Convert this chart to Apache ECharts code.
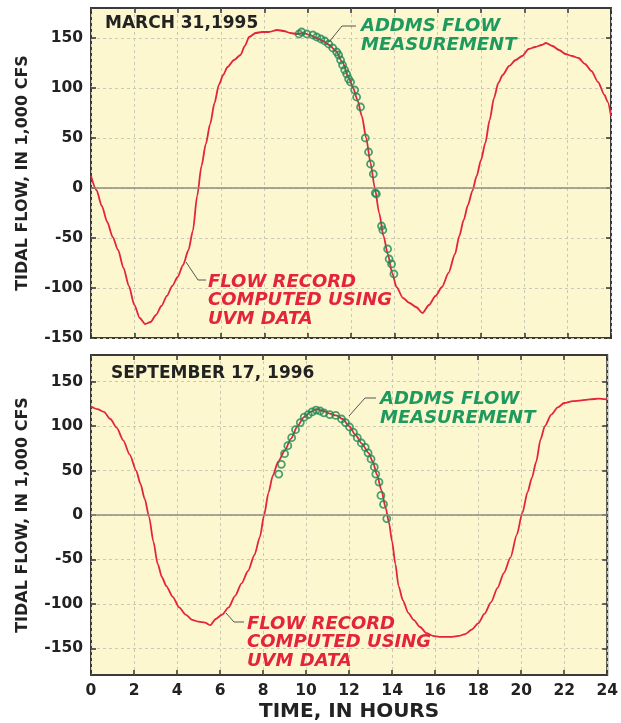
<!DOCTYPE html>
<html><head><meta charset="utf-8">
<script src="https://cdn.jsdelivr.net/npm/echarts@6/dist/echarts.min.js"></script>
<style>html,body{margin:0;padding:0;background:#fff}#c{width:621px;height:723px}</style>
</head><body><div id="c"></div>
<script>
// ---- data ----
const xTicks = [0, 2, 4, 6, 8, 10, 12, 14, 16, 18, 20, 22, 24];
const yTicks = [-150, -100, -50, 0, 50, 100, 150];

const marchHours = [0,0.25,0.5,0.75,1.0,1.25,1.5,1.75,2.0,2.25,2.5,2.75,3.0,3.25,3.5,3.75,4.0,4.25,4.5,4.7,4.9,5.1,5.3,5.5,5.7,5.9,6.1,6.3,6.6,6.9,7.1,7.3,7.6,7.9,8.2,8.6,8.9,9.2,9.5,9.8,10.1,10.4,10.7,11.0,11.3,11.6,11.9,12.1,12.3,12.5,12.7,12.9,13.1,13.3,13.5,13.7,13.9,14.1,14.4,14.7,15.0,15.3,15.6,15.9,16.2,16.5,16.8,17.0,17.2,17.4,17.6,17.8,18.0,18.2,18.4,18.6,18.8,19.0,19.3,19.6,19.9,20.2,20.5,20.8,21.0,21.3,21.6,21.9,22.2,22.5,22.8,23.1,23.4,23.7,23.85,24.0];
const marchFlow  = [12,-2,-18,-34,-49,-62,-80,-98,-117,-130,-136,-134,-127,-118,-108,-98,-89,-77,-62,-43,-8,22,44,64,85,103,113,121,128,133,142,151,155,156,156,158,157,155,154,155,153,150,147,143,137,126,110,100,88,72,50,25,0,-25,-48,-66,-85,-99,-110,-115,-119,-125,-117,-108,-99,-85,-66,-48,-32,-17,-3,12,28,45,68,90,105,113,122,128,132,139,141,143,145,142,138,134,132,130,124,117,106,93,86,72];
const marchMeasHours = [9.60,9.72,9.96,10.24,10.42,10.61,10.79,10.97,11.16,11.34,11.43,11.52,11.61,11.71,11.80,11.89,11.98,12.17,12.26,12.44,12.66,12.81,12.90,13.03,13.12,13.17,13.41,13.47,13.69,13.76,13.87,13.98];
const marchMeasFlow  = [154,156,154,153,151,149,147,144,140,136,133,128,123,118,114,109,106,98,91,81,50,36,24,14,-5,-6,-38,-42,-61,-71,-76,-86];

const septHours = [0,0.3,0.6,0.9,1.2,1.5,1.8,2.1,2.3,2.5,2.7,2.9,3.1,3.3,3.5,3.8,4.1,4.4,4.7,5.0,5.3,5.55,5.8,6.1,6.4,6.7,7.0,7.3,7.6,7.85,8.05,8.25,8.45,8.7,9.0,9.3,9.6,9.9,10.2,10.5,10.8,11.1,11.4,11.7,12.0,12.3,12.6,12.9,13.1,13.3,13.5,13.7,13.85,14.0,14.15,14.3,14.5,14.75,15.0,15.3,15.6,15.9,16.2,16.5,16.8,17.1,17.4,17.7,18.0,18.3,18.6,18.9,19.2,19.5,19.8,20.05,20.3,20.5,20.7,20.9,21.1,21.4,21.7,22.0,22.4,22.8,23.2,23.6,24.0];
const septFlow  = [122,119,116,108,98,84,68,50,35,18,-2,-30,-55,-70,-80,-92,-104,-112,-118,-120,-121,-124,-117,-112,-104,-91,-77,-63,-45,-25,0,25,44,60,72,86,100,110,116,119,117,114,112,108,100,90,80,70,60,45,28,8,-8,-30,-55,-80,-96,-110,-118,-126,-133,-136,-137,-137,-137,-136,-134,-129,-122,-111,-98,-82,-65,-48,-22,2,26,42,60,85,100,113,121,126,128,129,130,131,130];
const septMeasHours = [8.73,8.85,9.00,9.15,9.33,9.51,9.73,9.91,10.10,10.28,10.46,10.65,10.83,11.10,11.38,11.65,11.83,12.02,12.20,12.38,12.57,12.75,12.88,13.02,13.17,13.24,13.39,13.48,13.60,13.75];
const septMeasFlow  = [46,57,69,78,87,96,104,110,113,116,118,117,115,113,112,108,104,99,93,87,81,76,70,63,54,46,37,22,12,-4];

const titles = ['MARCH 31,1995', 'SEPTEMBER 17, 1996'];
const yTitle = 'TIDAL FLOW, IN 1,000 CFS';
const xTitle = 'TIME, IN HOURS';
const measLabel = ['ADDMS FLOW', 'MEASUREMENT'];
const recordLabel = ['FLOW RECORD', 'COMPUTED USING', 'UVM DATA'];

// ---- build ----
const pair = (a, b) => a.map((v, i) => [v, b[i]]);
const RED = '#e3243b', GREEN = '#1f9a5e', MARK = '#1a8a55', INK = '#222';
const FONT = 'DejaVu Sans';
const yRanges = [[-150, 180], [-180, 180]];
const grids = [
  {left: 91, right: 10, top: 8, height: 330},
  {left: 91, right: 10, top: 355, height: 320}
];
grids.forEach(g => Object.assign(g, {show: true, backgroundColor: '#fdf7cf', borderColor: '#3a3a3a', borderWidth: 2}));

const split = {show: true, lineStyle: {color: '#c9c9b6', type: [3, 3], width: 1}};
const tickStyle = {show: true, inside: true, length: 5, lineStyle: {color: '#333', width: 1.5}};
const yTick = Object.assign({customValues: yTicks}, tickStyle);
const noLine = {show: false, onZero: false};

const xAxes = [], yAxes = [];
[0, 1].forEach(i => {
  xAxes.push({type: 'value', gridIndex: i, position: 'bottom', min: xTicks[0], max: xTicks[xTicks.length - 1], interval: 2,
    axisLine: noLine, axisTick: tickStyle, splitLine: split,
    axisLabel: {show: i === 1, margin: 8, color: INK, fontFamily: FONT, fontWeight: 'bold', fontSize: 15.5},
    name: i === 1 ? xTitle : '', nameLocation: 'middle', nameGap: 27,
    nameTextStyle: {color: INK, fontFamily: FONT, fontWeight: 'bold', fontSize: 20}});
  yAxes.push({type: 'value', gridIndex: i, position: 'left', min: yRanges[i][0], max: yRanges[i][1], interval: 10,
    axisLine: noLine, axisTick: yTick, splitLine: split,
    axisLabel: {customValues: yTicks, margin: 8, color: INK, fontFamily: FONT, fontWeight: 'bold', fontSize: 15.5},
    name: yTitle, nameLocation: 'middle', nameGap: 60,
    nameTextStyle: {color: INK, fontFamily: FONT, fontWeight: 'bold', fontSize: 16}});
});
[0, 1].forEach(i => {
  xAxes.push({type: 'value', gridIndex: i, position: 'top', min: xTicks[0], max: xTicks[xTicks.length - 1], interval: 2,
    axisLine: noLine, axisTick: tickStyle, axisLabel: {show: false}, splitLine: {show: false}});
  yAxes.push({type: 'value', gridIndex: i, position: 'right', min: yRanges[i][0], max: yRanges[i][1], interval: 10,
    axisLine: noLine, axisTick: yTick, axisLabel: {show: false, customValues: yTicks}, splitLine: {show: false}});
});

const zeroLine = {silent: true, symbol: 'none', label: {show: false},
  lineStyle: {color: '#8c8c80', type: 'solid', width: 1.5}, data: [{yAxis: 0}]};

function flowSeries(i, h, v) {
  return {type: 'line', xAxisIndex: i, yAxisIndex: i, data: pair(h, v), showSymbol: false,
    smooth: 0.25, smoothMonotone: 'x', lineStyle: {color: RED, width: 1.8}, z: 3, markLine: zeroLine};
}
function measSeries(i, h, v) {
  return {type: 'scatter', xAxisIndex: i, yAxisIndex: i, data: pair(h, v), symbol: 'circle', symbolSize: 7,
    itemStyle: {color: 'rgba(0,0,0,0)', borderColor: MARK, borderWidth: 1.8}, z: 4};
}

function textEl(x, y, txt, color, size, italic) {
  return {type: 'text', x: x, y: y, z: 10, silent: true,
    style: {text: txt, fill: color, font: (italic ? 'italic ' : '') + 'bold ' + size + 'px "' + FONT + '"',
      verticalAlign: 'middle', align: 'left'}};
}
function leader(pts) {
  return {type: 'polyline', z: 9, silent: true, shape: {points: pts}, style: {stroke: '#555', lineWidth: 1, fill: null}};
}

const graphics = [
  textEl(105, 24, titles[0], INK, 17, false),
  textEl(111, 374, titles[1], INK, 17, false),
  textEl(361, 26, measLabel[0], GREEN, 18, true),
  textEl(361, 45, measLabel[1], GREEN, 18, true),
  textEl(208, 282, recordLabel[0], RED, 18, true),
  textEl(208, 300.5, recordLabel[1], RED, 18, true),
  textEl(208, 319, recordLabel[2], RED, 18, true),
  textEl(380, 399, measLabel[0], GREEN, 18, true),
  textEl(380, 418, measLabel[1], GREEN, 18, true),
  textEl(247, 624, recordLabel[0], RED, 18, true),
  textEl(247, 642.5, recordLabel[1], RED, 18, true),
  textEl(247, 661, recordLabel[2], RED, 18, true),
  leader([[329, 42], [342, 26], [356, 26]]),
  leader([[186, 262], [198, 280], [206, 280]]),
  leader([[349, 416], [365, 398], [376, 398]]),
  leader([[226, 613], [234, 622], [244, 622]])
];

const chart = echarts.init(document.getElementById('c'), null, {renderer: 'canvas'});
chart.setOption({
  animation: false,
  backgroundColor: '#ffffff',
  grid: grids,
  xAxis: xAxes,
  yAxis: yAxes,
  series: [
    flowSeries(0, marchHours, marchFlow),
    measSeries(0, marchMeasHours, marchMeasFlow),
    flowSeries(1, septHours, septFlow),
    measSeries(1, septMeasHours, septMeasFlow)
  ],
  graphic: graphics
});
</script></body></html>
